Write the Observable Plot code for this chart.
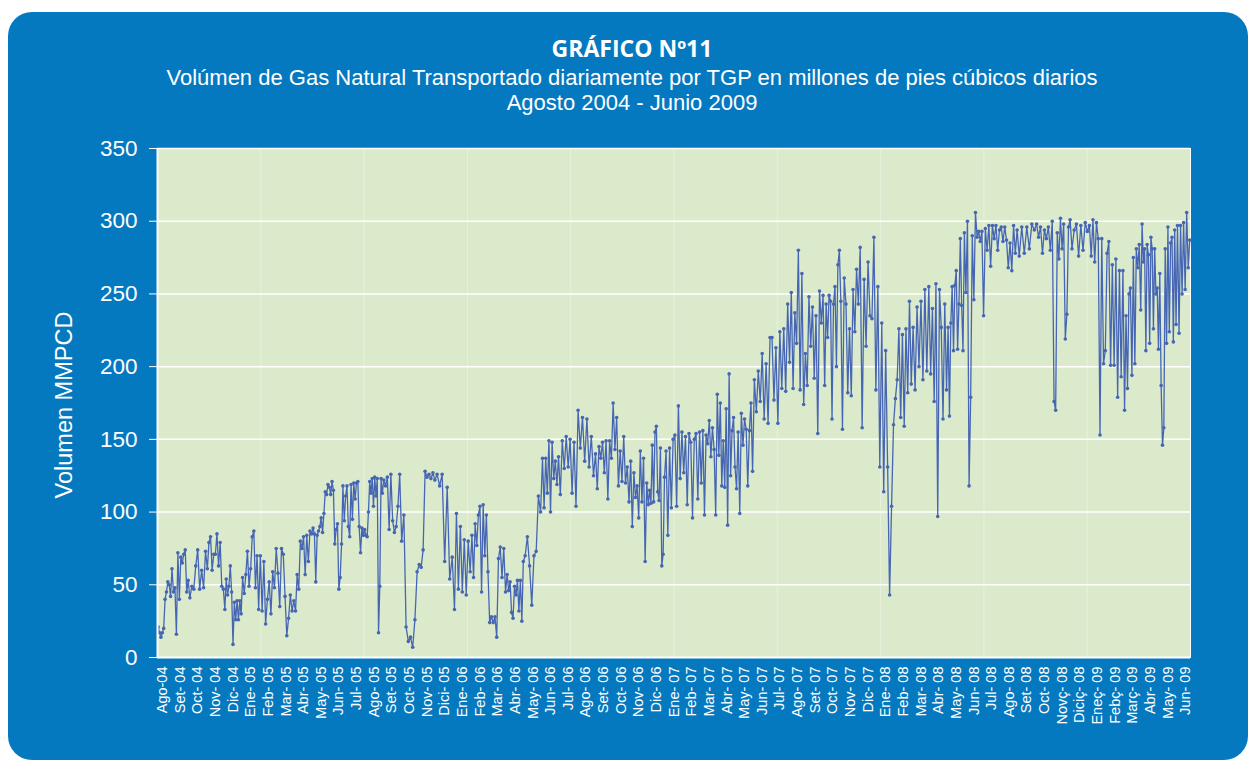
<!DOCTYPE html>
<html>
<head>
<meta charset="utf-8">
<script src="https://cdn.jsdelivr.net/npm/d3@7"></script>
<script src="https://cdn.jsdelivr.net/npm/@observablehq/plot@0.6"></script>
<style>
  html, body { margin: 0; padding: 0; background: #ffffff; }
  #wrap { position: relative; width: 1250px; height: 763px; overflow: hidden; }
  #panel { position: absolute; left: 8px; top: 12px; width: 1240px; height: 748px; background: #0479c0; border-radius: 24px; }
  .t { position: absolute; left: 0; width: 1264px; text-align: center; color: #fff; white-space: nowrap; }
  #t1 { top: 35px; font-family: "Open Sans", "Noto Sans", sans-serif; font-size: 23px; font-weight: 700; line-height: 26px; }
  #t2 { top: 66px; font-family: "Liberation Sans", Arial, sans-serif; font-size: 22px; line-height: 24px; }
  #t3 { top: 91px; font-family: "Liberation Sans", Arial, sans-serif; font-size: 22px; line-height: 24px; }
  #chart { position: absolute; left: 0; top: 0; }
  #ylab { position: absolute; left: -86px; top: 391px; width: 300px; height: 28px; line-height: 28px; text-align: center; color: #fff;
          font-family: "Liberation Sans", Arial, sans-serif; font-size: 23.5px; transform: rotate(-90deg); white-space: nowrap; }
</style>
</head>
<body>
<div id="wrap">
  <div id="panel"></div>
  <div class="t" id="t1">GRÁFICO Nº11</div>
  <div class="t" id="t2">Volúmen de Gas Natural Transportado diariamente por TGP en millones de pies cúbicos diarios</div>
  <div class="t" id="t3">Agosto 2004 - Junio 2009</div>
  <div id="ylab">Volumen MMPCD</div>
  <div id="chart"></div>
</div>
<script>
// Month tick labels (as printed on the chart)
const monthLabels = ["Ago-04","Set- 04","Oct- 04","Nov- 04","Dic- 04",
  "Ene- 05","Feb- 05","Mar- 05","Abr- 05","May- 05","Jun- 05","Jul- 05","Ago- 05","Set- 05","Oct- 05","Nov- 05","Dici- 05",
  "Ene- 06","Feb- 06","Mar- 06","Abr- 06","May- 06","Jun- 06","Jul- 06","Ago- 06","Set- 06","Oct- 06","Nov- 06","Dic- 06",
  "Ene- 07","Feb- 07","Mar- 07","Abr- 07","May- 07","Jun- 07","Jul- 07","Ago- 07","Set- 07","Oct- 07","Nov- 07","Dic- 07",
  "Ene- 08","Feb- 08","Mar- 08","Abr- 08","May- 08","Jun- 08","Jul- 08","Ago- 08","Set- 08","Oct- 08","Novç- 08","Diciç- 08",
  "Eneç- 09","Febç- 09","Març- 09","Abr- 09","May- 09","Jun- 09"];

const yTicks = [0, 50, 100, 150, 200, 250, 300, 350];

// Daily volume readings (MMPCD), grouped by month
const vol2004 = [
  [21,17,14,17,20,40,45,52,50,42],
  [61,45,48,16,72,40,69,65,71,74,45,53],
  [41,49,47,63,74,47,60,48,73],
  [61,79,83,60,71,71,85,63,79,49,47],
  [33,54,43,49,63,45,9,38,26,39,26,39,30]
];
const vol2005 = [
  [55,44,57,73,49,61,83,87,48,70,33],
  [70,32,66,23,40,52,30,59,48,75],
  [58,35,75,71,42,15,27,43,32,39],
  [32,57,47,80,75,83,57,84,66,87,85],
  [89,85,52,84,87,90,96,86,99,114,112,119,117],
  [112,121,115,78,88,92,47,55,78,118,94,111,118],
  [90,83,119,95,120,109,120,121,90,72,89,84,88],
  [84,83,100,121,113,123,104,124,111,123,17,49,123,113],
  [122,118,124,88,126,94,86,90,104,126],
  [80,98,21,11,14,7,26,59],
  [64,62,74,128,124,126,123,127,122],
  [126,118,126,66,117,54,69]
];
const vol2006 = [
  [33,99,47,90,45,81,43,80,59],
  [84,55,92,77,98,104,45,105,70,98,59],
  [24,28,24,28,14,68,76,55,75,45],
  [57,46,52,31,27,49,43,53,32,53,25,66],
  [70,83,63,36,70,73,111,100],
  [137,103,137,113,149,100,148,123,135,119,138],
  [112,149,130,152,131,150,113,148,104],
  [170,144,165,135,164,131,152,125],
  [140,116,145,137,148,127,149,109,149,137],
  [175,143,165,118,142,121,152,120,131,107],
  [135,90,127,110,118,96,142,107,137,66,120],
  [105,115,106,146,107,155,159,114,108,144,63,71,124]
];
const vol2007 = [
  [142,84,144,103,150,153,104,173,123,155],
  [127,152,105,154,148,96,150,154,109,155],
  [120,156,98,153,147,163,138,158,143,98,181],
  [139,175,118,149,117,171,91,195,125,156,165,131],
  [116,155,99,168,146,164,157,118,156,175,128],
  [191,169,197,176,209,164,202,161,220],
  [220,177,213,161,224,185,226,183,243],
  [203,251,185,237,216,280,184,264,174,209],
  [187,248,214,241,192,235,154,252,230,249],
  [187,243,220,249,245,164,243,255,200,270,280,245],
  [157,261,243,182,226,180,253,224,267,243],
  [282,158,260,214,272,235,233,289,184]
];
const vol2008 = [
  [255,131,230,114,211,131,43,104,160],
  [178,191,226,165,222,159,226,182,245,188],
  [227,184,241,200,245,191,253,197,255],
  [195,240,176,257,97,253,227,164,243,184],
  [227,166,230,255,211,256,266,212,243,288,242,211,292],
  [251,300,118,179,290,246,306,289,293,286,293],
  [235,295,280,297,269,297,288,297,280,294],
  [296,286,296,287,268,285,266,297,278,294],
  [276,296,278,296,281,298,294],
  [298,289,296,278,294,288,296,280,300],
  [176,170,292,274,302,281,298,219,236,296,301],
  [281,294,298,276,297,280,299,293]
];
const vol2009 = [
  [297,276,301,272,299,288,153,288,202,211],
  [278,286,201,270,201,274,179,266,193,266],
  [170,235,185,250,254,194,275,202,281,268,284,239],
  [298,272,281,211,284,277,216,289,281,226,281,250,254,212],
  [264,187,146,158,281,216,296,224,285,289,217,294,229],
  [297,223,297,250,299,253,306,268,287]
];

const LINE = "#4666b4";
const X0 = -0.28, X1 = monthLabels.length - 1 + 0.28;

const months = [...vol2004, ...vol2005, ...vol2006, ...vol2007, ...vol2008, ...vol2009];
// spread each month's readings evenly across that month's slot
const points = months.flatMap((arr, i) => {
  const lo = Math.max(i - 0.5, X0), hi = Math.min(i + 0.5, X1);
  return arr.map((v, j) => ({x: lo + (j + 0.5) * (hi - lo) / arr.length, v}));
});

const chart = Plot.plot({
  width: 1250,
  height: 763,
  marginLeft: 157,
  marginRight: 60,
  marginTop: 148,
  marginBottom: 106,
  x: {domain: [X0, X1]},
  y: {domain: [0, 350]},
  style: {background: "transparent", color: "#ffffff", fontFamily: "'Liberation Sans', Arial, sans-serif"},
  marks: [
    Plot.frame({fill: "#dbeacb", stroke: "#ffffff", strokeWidth: 1}),
    Plot.ruleX(d3.range(1, 10).map(k => X0 + k * (X1 - X0) / 10), {stroke: "#ffffff", strokeOpacity: 0.35}),
    Plot.ruleY(yTicks.slice(1), {stroke: "#ffffff", strokeWidth: 1.5}),
    Plot.line(points, {x: "x", y: "v", stroke: LINE, strokeWidth: 1.3}),
    Plot.dot(points, {x: "x", y: "v", r: 1.8, fill: LINE}),
    Plot.ruleY([0], {stroke: "#ffffff", strokeWidth: 2}),
    Plot.ruleX([X0], {stroke: "#ffffff", strokeWidth: 2}),
    Plot.axisY({ticks: yTicks, tickSize: 8, tickPadding: 12, fontSize: 22.5, label: null}),
    Plot.axisX({ticks: d3.range(monthLabels.length), tickFormat: i => monthLabels[i], tickRotate: -90,
                tickSize: 0, tickPadding: 9, fontSize: 14.5, label: null})
  ]
});
document.getElementById("chart").appendChild(chart);
</script>
</body>
</html>
